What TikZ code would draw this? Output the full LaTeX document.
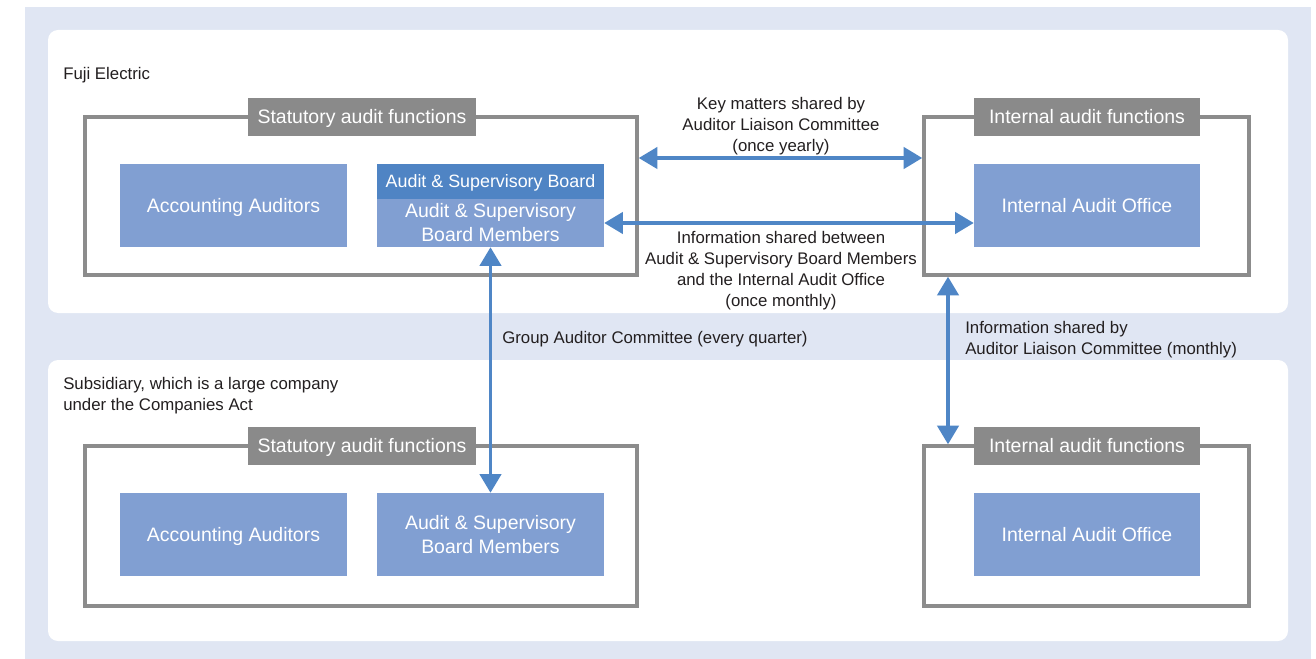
\documentclass[tikz,border=0pt]{standalone}
\usepackage{fontspec}
\setmainfont{Liberation Sans}
\usetikzlibrary{arrows.meta,calc}
\definecolor{bgblue}{HTML}{E0E6F3}
\definecolor{boxblue}{HTML}{819FD2}
\definecolor{hdrblue}{HTML}{4F84C4}
\definecolor{arrblue}{HTML}{4F86C6}
\definecolor{lblgray}{HTML}{8A8A8A}
\definecolor{frgray}{HTML}{8C8C8C}
\definecolor{txt}{HTML}{231F20}
\tikzset{
  panel/.style={fill=white,draw=none,rounded corners=7.5pt},
  frame/.style={draw=frgray,line width=2.6pt,fill=none,inner sep=0pt},
  oneline/.style={text height=10.4pt,text depth=0pt},
  lbl/.style={fill=lblgray,text=white,inner sep=0pt,minimum width=171pt,minimum height=28.5pt,font=\fontsize{14.6}{18}\selectfont,oneline},
  unit/.style={fill=boxblue,text=white,inner sep=0pt,align=center,font=\fontsize{14.6}{18}\selectfont},
  hdr/.style={fill=hdrblue,text=white,inner sep=0pt,align=center,font=\fontsize{13.4}{16}\selectfont,text height=9.6pt,text depth=0pt},
  note/.style={text=txt,inner sep=0pt,font=\fontsize{12.6}{15.75}\selectfont},
  arr/.style={draw=arrblue,line width=2.6pt,{Triangle[length=14pt,width=16pt]}-{Triangle[length=14pt,width=16pt]}}
}
\begin{document}
\begin{tikzpicture}[x=0.75pt,y=-0.75pt]
\useasboundingbox (0,0) rectangle (1316,659);
\fill[bgblue] (25,7) rectangle (1311,659);
\fill[panel] (48,30) rectangle (1288,313);
\fill[panel] (48,360) rectangle (1288,641);

% texts of panels
\node[note,anchor=west] (fuji) at (63,75) {Fuji Electric};
\node[note,anchor=west,align=left] (sub) at (63,395.5) {Subsidiary, which is a large company\\under the Companies Act};

% frames
\node[frame,minimum width=414pt,minimum height=118.5pt] (tlf) at (361,196) {};
\node[frame,minimum width=243.75pt,minimum height=118.5pt] (trf) at (1086.5,196) {};
\node[frame,minimum width=414pt,minimum height=120pt] (blf) at (361,526) {};
\node[frame,minimum width=243.75pt,minimum height=120pt] (brf) at (1086.5,526) {};

% frame labels
\node[lbl] (tll) at (362,117) {Statutory audit functions};
\node[lbl,minimum width=169.5pt] (trl) at (1087,117) {Internal audit functions};
\node[lbl] (bll) at (362,446) {Statutory audit functions};
\node[lbl,minimum width=169.5pt] (brl) at (1087,446) {Internal audit functions};

% units top
\node[unit,oneline,minimum width=170.25pt,minimum height=62.25pt] (aa1) at (233.5,205.5) {Accounting Auditors};
\node[hdr,minimum width=170.25pt,minimum height=26.25pt] (asb) at (490.5,181.5) {Audit \& Supervisory Board};
\node[unit,minimum width=170.25pt,minimum height=36pt] (asbm1) at (490.5,223) {Audit \& Supervisory\\Board Members};
\node[unit,oneline,minimum width=169.5pt,minimum height=62.25pt] (iao1) at (1087,205.5) {Internal Audit Office};

% units bottom
\node[unit,oneline,minimum width=170.25pt,minimum height=62.25pt] (aa2) at (233.5,534.5) {Accounting Auditors};
\node[unit,minimum width=170.25pt,minimum height=62.25pt] (asbm2) at (490.5,534.5) {Audit \& Supervisory\\Board Members};
\node[unit,oneline,minimum width=169.5pt,minimum height=62.25pt] (iao2) at (1087,534.5) {Internal Audit Office};

% helper coordinates
\coordinate (ky) at (0,158);
\coordinate (lx) at (948,0);

% arrows
\draw[arr] (tlf.east |- ky) -- (trf.west |- ky);
\draw[arr] (asbm1.east) -- (iao1.west |- asbm1.east);
\draw[arr] (asbm1.south) -- (asbm2.north);
\draw[arr] (trf.south -| lx) -- (brf.north -| lx);

% arrow labels
\node[note,align=center] (t1) at (781,126) {Key matters shared by\\Auditor Liaison Committee\\(once yearly)};
\node[note,align=center] (t2) at (781,270.5) {Information shared between\\Audit \& Supervisory Board Members\\and the Internal Audit Office\\(once monthly)};
\node[note,anchor=west] (t3) at (502,339) {Group Auditor Committee (every quarter)};
\node[note,anchor=west,align=left] (t4) at (965,339.5) {Information shared by\\Auditor Liaison Committee (monthly)};
\end{tikzpicture}
\end{document}
